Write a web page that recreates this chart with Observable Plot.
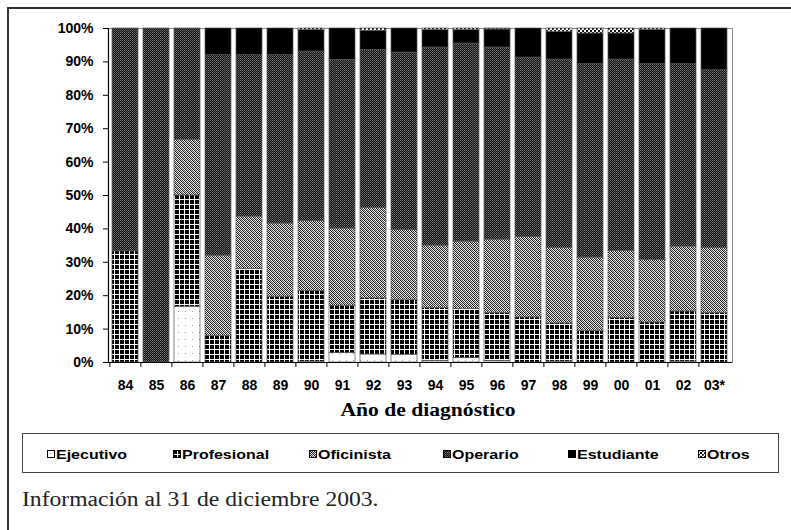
<!DOCTYPE html>
<html>
<head>
<meta charset="utf-8">
<script src="https://cdn.jsdelivr.net/npm/d3@7"></script>
<script src="https://cdn.jsdelivr.net/npm/@observablehq/plot@0.6"></script>
<style>
  html, body { margin: 0; padding: 0; background: #fff; overflow: hidden; }
  #wrap { position: relative; width: 791px; height: 530px; overflow: hidden; background: #fff; }
  #outer { position: absolute; left: 7px; top: 7px; width: 900px; height: 700px; border: 2px solid #333; box-sizing: border-box; }
  #chart { position: absolute; left: 0; top: 0; }
  .stretch { display: inline-block; transform-origin: 0 50%; white-space: nowrap; }
  #xtitle { position: absolute; top: 400px; font-family: "Liberation Serif", "Times New Roman", serif; font-weight: bold; font-size: 18px; transform-origin: 50% 50%; white-space: nowrap; }
  #legend { position: absolute; left: 22px; top: 433px; width: 757px; height: 40px; border: 1px solid #444; box-sizing: border-box; }
  .item { position: absolute; top: 12px; height: 16px; display: flex; align-items: center; font-family: "Liberation Sans", Arial, sans-serif; font-weight: bold; font-size: 13px; }
  .item svg { display: block; margin-right: 1px; }
  #caption { position: absolute; left: 22px; top: 488px; font-family: "Liberation Serif", "Times New Roman", serif; font-size: 20px; color: #222; }
</style>
</head>
<body>
<div id="wrap">
  <div id="outer"></div>
  <svg width="0" height="0" style="position:absolute">
    <defs>
      <pattern id="pEje" width="7" height="7" patternUnits="userSpaceOnUse">
        <rect width="7" height="7" fill="#fff"/>
        <rect x="3" y="3" width="1" height="1" fill="#9a9a9a"/>
      </pattern>
      <pattern id="pPro" width="5" height="5" patternUnits="userSpaceOnUse">
        <rect width="5" height="5" fill="#000"/>
        <rect x="4" y="0" width="1" height="5" fill="#fff"/>
        <rect x="0" y="4" width="5" height="1" fill="#fff"/>
      </pattern>
      <pattern id="pOfi" width="4" height="4" patternUnits="userSpaceOnUse">
        <rect width="4" height="4" fill="#fff"/>
        <rect x="0" y="0" width="1" height="1" fill="#111"/>
        <rect x="1" y="1" width="1" height="1" fill="#111"/>
        <rect x="2" y="2" width="1" height="1" fill="#111"/>
        <rect x="3" y="3" width="1" height="1" fill="#111"/>
        <rect x="2" y="0" width="1" height="1" fill="#444"/>
        <rect x="3" y="1" width="1" height="1" fill="#444"/>
        <rect x="0" y="2" width="1" height="1" fill="#444"/>
        <rect x="1" y="3" width="1" height="1" fill="#444"/>
        <rect x="1" y="0" width="1" height="1" fill="#ccc"/>
        <rect x="2" y="1" width="1" height="1" fill="#ccc"/>
        <rect x="3" y="2" width="1" height="1" fill="#ccc"/>
        <rect x="0" y="3" width="1" height="1" fill="#ccc"/>
      </pattern>
      <pattern id="pOpe" width="2" height="2" patternUnits="userSpaceOnUse">
        <rect width="2" height="2" fill="#111"/>
        <rect x="0" y="0" width="1" height="1" fill="#6e6e6e"/>
        <rect x="1" y="1" width="1" height="1" fill="#555"/>
      </pattern>
      <pattern id="pEst" width="4" height="4" patternUnits="userSpaceOnUse">
        <rect width="4" height="4" fill="#000"/>
      </pattern>
      <pattern id="pOtr" width="4" height="4" patternUnits="userSpaceOnUse">
        <rect width="4" height="4" fill="#fff"/>
        <rect x="0" y="0" width="2" height="2" fill="#111"/>
        <rect x="2" y="2" width="2" height="2" fill="#111"/>
        <rect x="1" y="1" width="1" height="1" fill="#888"/>
      </pattern>
    </defs>
  </svg>
  <div id="chart"></div>
  <div id="xtitle"><span>Año de diagnóstico</span></div>
  <div id="legend"></div>
  <div id="caption"><span class="stretch">Información al 31 de diciembre 2003.</span></div>
</div>
<script>
// ---- data (percent of cases per year, bottom to top) ----
const years = ["84","85","86","87","88","89","90","91","92","93","94","95","96","97","98","99","00","01","02","03*"];
const categories = ["Ejecutivo","Profesional","Oficinista","Operario","Estudiante","Otros"];
const ejecutivo   = [0,   0,   16.7, 0,    0,    0,    0.3,  2.8,  2.4,  2.3,  0.5,  1.3,  0.5,  0,    0.3,  0,    0,    0,    0.3,  0];
const profesional = [33.3,0,   33.3, 7.9,  28.0, 19.7, 21.1, 14.2, 16.8, 16.5, 15.8, 14.7, 14.3, 13.5, 11.4, 9.4,  13.4, 12.0, 15.0, 14.8];
const oficinista  = [0,   0,   16.7, 24.1, 15.7, 21.9, 20.9, 23.1, 27.1, 20.9, 18.7, 20.2, 22.0, 24.1, 22.6, 22.0, 20.0, 18.7, 19.4, 19.5];
const operario    = [66.7,100, 33.3, 60.0, 48.3, 50.4, 50.8, 50.5, 47.3, 53.1, 59.3, 59.3, 57.5, 53.7, 56.4, 57.9, 57.3, 58.6, 54.6, 53.2];
const estudiante  = [0,   0,   0,    8.0,  8.0,  8.0,  6.4,  9.4,  5.7,  7.2,  5.2,  4.0,  5.4,  8.7,  8.3,  9.2,  7.8,  10.3, 10.7, 12.5];
const otros       = [0,   0,   0,    0,    0,    0,    0.5,  0,    0.7,  0,    0.5,  0.5,  0.3,  0,    1.0,  1.5,  1.5,  0.4,  0,    0];
const yTicks = [0,10,20,30,40,50,60,70,80,90,100];

// ---- styles ----
const patterns = ["url(#pEje)","url(#pPro)","url(#pOfi)","url(#pOpe)","url(#pEst)","url(#pOtr)"];
const series = [ejecutivo, profesional, oficinista, operario, estudiante, otros];
const rows = years.flatMap((yr, i) => categories.map((c, j) => ({year: yr, cat: c, value: series[j][i]})));

const W = 791, H = 425, ML = 108, MR = 59, MT = 28, MB = 63;
const step = (W - ML - MR) / years.length;

const chart = Plot.plot({
  width: W, height: H,
  marginLeft: ML, marginRight: MR, marginTop: MT, marginBottom: MB,
  style: {fontFamily: "'Liberation Sans', Arial, sans-serif", fontSize: "14px", fontWeight: "bold", color: "#000", background: "transparent"},
  x: {domain: years, paddingInner: 0.16, paddingOuter: 0.08, label: null},
  y: {domain: [0, 100], label: null},
  color: {domain: categories, range: patterns},
  marks: [
    Plot.frame({stroke: "#888", strokeWidth: 1}),
    Plot.barY(rows, {x: "year", y: "value", fill: "cat", stroke: "#555", strokeWidth: 0.7}),
    Plot.axisY({ticks: yTicks, tickSize: 5, tickPadding: 10, tickFormat: d => d + "%", label: null}),
    Plot.axisX({tickSize: 0, tickPadding: 18, label: null}),
    Plot.axisX({tickSize: 5, tickFormat: () => "", label: null, dx: -step / 2}),
    Plot.ruleY([0], {stroke: "#000", strokeWidth: 1.2}),
    Plot.frame({anchor: "left", stroke: "#000", strokeWidth: 1.2})
  ]
});
document.getElementById("chart").appendChild(chart);

// axis title centred under the bars (slightly right, as in the original)
const xt = document.getElementById("xtitle");
xt.style.left = "0px";
const tw = xt.getBoundingClientRect().width;
const cx = ML + (W - ML - MR) / 2 + 8;
xt.style.left = (cx - tw / 2) + "px";
xt.style.transform = "scaleX(1.2)";

// legend
const legendX = [47, 173, 309, 443, 568, 698];
const legend = document.getElementById("legend");
categories.forEach((c, i) => {
  const it = document.createElement("div");
  it.className = "item";
  it.style.left = (legendX[i] - 23) + "px";
  it.innerHTML = `<svg width="8" height="8"><rect x="0.5" y="0.5" width="7" height="7" fill="${patterns[i]}" stroke="#000" stroke-width="1"/></svg><span class="stretch" style="transform:scaleX(1.23)">${c}</span>`;
  legend.appendChild(it);
});
document.querySelector("#caption .stretch").style.transform = "scaleX(1.18)";
</script>
</body>
</html>
